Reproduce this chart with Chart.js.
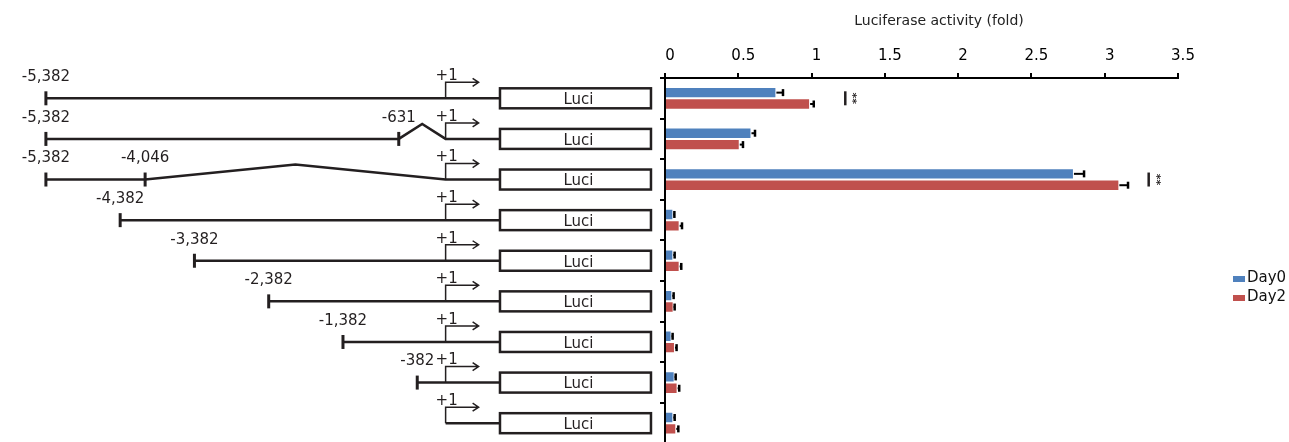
<!DOCTYPE html>
<html>

<head>
  <title>Luciferase reporter constructs</title>
  <script src="https://cdn.jsdelivr.net/npm/chart.js@4.4.0/dist/chart.umd.min.js"></script>
  <style>
    body {
      margin: 0;
      width: 1289px;
      height: 442px;
      overflow: hidden;
      position: relative;
      background: #fff;
      font-family: "DejaVu Sans", sans-serif;
    }
    #mapChart { position: absolute; left: 0; top: 0; }
    #activityChart { position: absolute; left: 640px; top: 0; }
    #axisTitle {
      position: absolute;
      left: 839px;
      top: 12px;
      width: 200px;
      text-align: center;
      font-size: 14px;
      line-height: 17px;
      color: #222;
      white-space: nowrap;
    }
    #legend {
      position: absolute;
      left: 1233px;
      top: 268px;
      font-size: 15px;
      line-height: 19px;
      color: #111;
      white-space: nowrap;
    }
    .swatch {
      display: inline-block;
      width: 12px;
      height: 6px;
      margin-right: 2px;
      vertical-align: baseline;
    }
  </style>
</head>

<body>
  <canvas id="mapChart" width="661" height="470"></canvas>
  <canvas id="activityChart" width="600" height="470"></canvas>
  <div id="axisTitle">Luciferase activity (fold)</div>
  <div id="legend"></div>

  <script>
    // constructs, top to bottom
    const constructs = ['-5382', '-5382 del(-631/+1)', '-5382 del(-4046/+1)', '-4382', '-3382', '-2382', '-1382', '-382', '+1'];
    // 5' end of each promoter fragment (bp, relative to +1); null = no upstream sequence
    const startSites = [-5382, -5382, -5382, -4382, -3382, -2382, -1382, -382, null];
    // start of the deleted stretch (runs up to +1)
    const deletionStarts = [null, -631, -4046, null, null, null, null, null, null];
    // luciferase box on the schematic bp axis
    const luciStart = 732;
    const luciEnd = 2765;
    const tss = 0;

    // luciferase activity (fold)
    const day0 = [0.76, 0.59, 2.79, 0.057, 0.057, 0.05, 0.045, 0.066, 0.057];
    const day0Err = [0.045, 0.024, 0.069, 0.007, 0.009, 0.009, 0.007, 0.007, 0.009];
    const day2 = [0.99, 0.51, 3.10, 0.10, 0.10, 0.059, 0.068, 0.086, 0.077];
    const day2Err = [0.025, 0.022, 0.059, 0.016, 0.011, 0.007, 0.011, 0.011, 0.014];

    // significance marks
    const sigRows = [0, 2];
    const sigAt = [1.23, 3.30];
    const sigText = ['**', '**'];

    const ink = '#231f20';
    const fontFamily = 'DejaVu Sans';

    // draws the promoter constructs on the bp / row scales
    const constructMap = {
      id: 'constructMap',
      afterDraw(chart) {
        const { ctx, scales: { x, y } } = chart;
        ctx.save();
        ctx.strokeStyle = ink;
        ctx.fillStyle = ink;
        ctx.font = '15px "' + fontFamily + '"';
        ctx.textAlign = 'center';
        ctx.textBaseline = 'middle';

        constructs.forEach((name, i) => {
          const yy = y.getPixelForValue(i + 0.5);
          const xt = x.getPixelForValue(tss);
          const xb = x.getPixelForValue(luciStart);
          const xe = x.getPixelForValue(luciEnd);

          // promoter line
          ctx.lineWidth = 2.5;
          ctx.beginPath();
          if (startSites[i] !== null) {
            ctx.moveTo(x.getPixelForValue(startSites[i]), yy);
            if (deletionStarts[i] !== null) {
              const xd = x.getPixelForValue(deletionStarts[i]);
              ctx.lineTo(xd, yy);
              ctx.lineTo((xd + xt) / 2, yy - 15);
              ctx.lineTo(xt, yy);
            }
          } else {
            ctx.moveTo(xt, yy);
          }
          ctx.lineTo(xb, yy);
          ctx.stroke();

          // end marks and their labels
          [startSites[i], deletionStarts[i]].forEach(bp => {
            if (bp === null) return;
            const xs = x.getPixelForValue(bp);
            ctx.lineWidth = 3;
            ctx.beginPath();
            ctx.moveTo(xs, yy - 7);
            ctx.lineTo(xs, yy + 7);
            ctx.stroke();
            ctx.fillText(bp.toLocaleString('en-US'), xs, yy - 21);
          });

          // +1 arrow
          ctx.lineWidth = 1.5;
          ctx.beginPath();
          ctx.moveTo(xt, yy);
          ctx.lineTo(xt, yy - 16);
          ctx.lineTo(xt + 33, yy - 16);
          ctx.moveTo(xt + 27, yy - 20);
          ctx.lineTo(xt + 33, yy - 16);
          ctx.lineTo(xt + 27, yy - 12);
          ctx.stroke();
          ctx.fillText('+1', xt + 1, yy - 22);

          // reporter box
          ctx.lineWidth = 2.5;
          ctx.strokeRect(xb, yy - 10, xe - xb, 20);
          ctx.fillText('Luci', (xb + xe) / 2 + 3, yy + 2);
        });
        ctx.restore();
      }
    };

    // one-sided error bars on the horizontal bars
    const errorBars = {
      id: 'errorBars',
      afterDatasetsDraw(chart) {
        const { ctx, scales: { x } } = chart;
        ctx.save();
        ctx.strokeStyle = '#000';
        chart.data.datasets.forEach((ds, di) => {
          chart.getDatasetMeta(di).data.forEach((bar, j) => {
            const x0 = x.getPixelForValue(ds.data[j]);
            const x1 = x.getPixelForValue(ds.data[j] + ds.errors[j]);
            ctx.lineWidth = 2;
            ctx.beginPath();
            ctx.moveTo(x0, bar.y);
            ctx.lineTo(x1, bar.y);
            ctx.stroke();
            ctx.lineWidth = 2.5;
            ctx.beginPath();
            ctx.moveTo(x1, bar.y - 3.5);
            ctx.lineTo(x1, bar.y + 3.5);
            ctx.stroke();
          });
        });
        ctx.restore();
      }
    };

    const significance = {
      id: 'significance',
      afterDatasetsDraw(chart) {
        const { ctx, scales: { x, y } } = chart;
        ctx.save();
        ctx.strokeStyle = ink;
        ctx.fillStyle = ink;
        sigRows.forEach((row, k) => {
          const px = x.getPixelForValue(sigAt[k]);
          const py = y.getPixelForValue(row);
          ctx.lineWidth = 2.5;
          ctx.beginPath();
          ctx.moveTo(px, py - 7);
          ctx.lineTo(px, py + 7);
          ctx.stroke();
          ctx.save();
          ctx.translate(px + 7, py);
          ctx.rotate(Math.PI / 2);
          ctx.font = 'bold 11px "' + fontFamily + '"';
          ctx.textAlign = 'center';
          ctx.textBaseline = 'middle';
          ctx.fillText(sigText[k], 0, 0);
          ctx.restore();
        });
        ctx.restore();
      }
    };

    new Chart(document.getElementById('mapChart'), {
      type: 'scatter',
      data: { datasets: [] },
      options: {
        responsive: false,
        animation: false,
        layout: { padding: { top: 78, bottom: 26.5, left: 0, right: 0 } },
        scales: {
          x: { type: 'linear', display: false, min: -6000, max: 2900 },
          y: { type: 'linear', display: false, min: 0, max: 9, reverse: true }
        },
        plugins: { legend: { display: false }, tooltip: { enabled: false } }
      },
      plugins: [constructMap]
    });

    const activityChart = new Chart(document.getElementById('activityChart'), {
      type: 'bar',
      data: {
        labels: constructs,
        datasets: [
          { label: 'Day0', data: day0, errors: day0Err, backgroundColor: '#4f81bd', borderColor: 'rgba(255,255,255,0.5)', borderWidth: 1 },
          { label: 'Day2', data: day2, errors: day2Err, backgroundColor: '#c0504d', borderColor: 'rgba(255,255,255,0.5)', borderWidth: 1 }
        ]
      },
      options: {
        indexAxis: 'y',
        responsive: false,
        animation: false,
        layout: { padding: { left: 20, right: 62, top: 39, bottom: 26.5 } },
        datasets: { bar: { categoryPercentage: 0.56, barPercentage: 1 } },
        scales: {
          x: {
            position: 'top',
            min: 0,
            max: 3.5,
            ticks: {
              stepSize: 0.5,
              padding: 8,
              labelOffset: 5,
              color: '#000',
              font: { family: fontFamily, size: 15 },
              callback: value => String(value)
            },
            grid: { drawOnChartArea: false, tickLength: 5, color: '#000', lineWidth: 2 },
            border: { color: '#000', width: 2 }
          },
          y: {
            ticks: { display: false },
            grid: { drawOnChartArea: false, tickLength: 5, color: '#000', lineWidth: 2 },
            border: { color: '#000', width: 2 }
          }
        },
        plugins: {
          legend: { display: false },
          tooltip: { enabled: false }
        }
      },
      plugins: [errorBars, significance]
    });

    // legend beside the bars
    const legend = document.getElementById('legend');
    activityChart.data.datasets.forEach(ds => {
      const row = document.createElement('div');
      const sw = document.createElement('span');
      sw.className = 'swatch';
      sw.style.background = ds.backgroundColor;
      row.appendChild(sw);
      row.appendChild(document.createTextNode(ds.label));
      legend.appendChild(row);
    });
  </script>
</body>

</html>
